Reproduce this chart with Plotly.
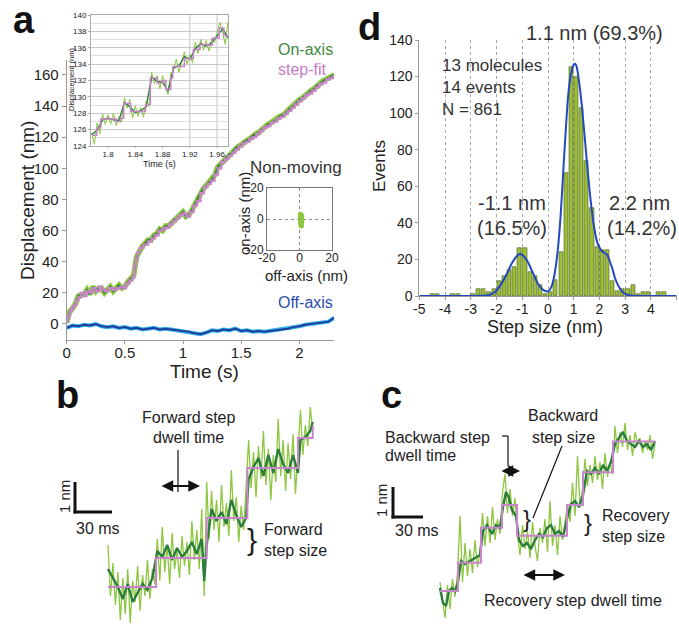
import plotly.graph_objects as go

# ---------------- DATA ----------------
# Panel a: main trace (time s, displacement nm)
main_raw_t = [0, 0.025, 0.05, 0.075, 0.1, 0.125, 0.15, 0.175, 0.2, 0.225, 0.25, 0.275, 0.3, 0.325, 0.35, 0.375,
              0.4, 0.425, 0.45, 0.475, 0.5, 0.525, 0.55, 0.575, 0.6, 0.625, 0.65, 0.675, 0.7, 0.725, 0.75, 0.775,
              0.8, 0.825, 0.85, 0.875, 0.9, 0.925, 0.95, 0.975, 1.0, 1.025, 1.05, 1.075, 1.1, 1.125, 1.15, 1.175,
              1.2, 1.225, 1.25, 1.275, 1.3, 1.325, 1.35, 1.375, 1.4, 1.425, 1.45, 1.475, 1.5, 1.525, 1.55, 1.575,
              1.6, 1.625, 1.65, 1.675, 1.7, 1.725, 1.75, 1.775, 1.8, 1.825, 1.85, 1.875, 1.9, 1.925, 1.95, 1.975,
              2.0, 2.025, 2.05, 2.075, 2.1, 2.125, 2.15, 2.175, 2.2, 2.225, 2.25, 2.275, 2.3]
main_raw_nm = [1, 8, 10, 13, 18, 19, 19, 22, 19, 24, 21, 23, 23, 20, 22, 24,
               21, 23, 25, 23, 24, 27, 29, 31, 43, 47, 50, 52, 54, 54, 57, 58,
               61, 60, 63, 63, 65, 67, 68, 70, 72, 69, 70, 73, 77, 80, 84, 87,
               89, 91, 93, 96, 101, 103, 105, 107, 109, 110, 113, 114, 115, 117, 118, 119,
               121, 122, 123, 125, 126, 128, 129, 130, 131, 133, 134, 135, 137, 139, 140, 142,
               144, 145, 147, 148, 150, 151, 153, 154, 156, 157, 158, 159, 160]
main_step_t = [0, 0.01, 0.025, 0.04, 0.06, 0.08, 0.1, 0.12, 0.15, 0.17, 0.2, 0.22, 0.25, 0.28, 0.3, 0.33, 0.36, 0.4,
               0.43, 0.46, 0.49, 0.51, 0.54, 0.565, 0.58, 0.595, 0.61, 0.63, 0.66, 0.7, 0.73, 0.76, 0.79, 0.82,
               0.85, 0.88, 0.91, 0.94, 0.97, 1.0, 1.03, 1.06, 1.09, 1.12, 1.15, 1.18, 1.21, 1.24, 1.27, 1.3,
               1.33, 1.36, 1.39, 1.42, 1.45, 1.48, 1.51, 1.54, 1.57, 1.6, 1.63, 1.66, 1.69, 1.72, 1.75, 1.78,
               1.81, 1.84, 1.87, 1.9, 1.93, 1.96, 1.99, 2.02, 2.05, 2.08, 2.11, 2.14, 2.17, 2.2, 2.23, 2.26, 2.29, 2.3]
main_step_nm = [2, 5, 8, 10, 12, 15, 17, 20, 18, 21, 20, 23, 21, 24, 22, 21, 23, 22,
                23, 24, 23, 26, 28, 30, 37, 42, 46, 49, 51, 53, 55, 57, 60, 61,
                62, 64, 66, 68, 70, 71, 69, 72, 76, 79, 84, 88, 90, 92, 96, 100,
                104, 106, 108, 110, 112, 114, 116, 117, 119, 120, 122, 124, 126, 127, 129, 130,
                132, 133, 135, 137, 139, 141, 143, 145, 147, 148, 150, 152, 154, 155, 157, 158, 159, 159]
off_t = [0, 0.05, 0.1, 0.15, 0.2, 0.25, 0.3, 0.35, 0.4, 0.45, 0.5, 0.55, 0.6, 0.65, 0.7, 0.75, 0.8, 0.85,
         0.9, 0.95, 1.0, 1.05, 1.1, 1.15, 1.2, 1.25, 1.3, 1.35, 1.4, 1.45, 1.5, 1.55, 1.6, 1.65, 1.7, 1.75,
         1.8, 1.85, 1.9, 1.95, 2.0, 2.05, 2.1, 2.15, 2.2, 2.25, 2.3]
off_nm = [-2.5, -1, -1.5, -0.5, -1, 0, -1.5, -2, -1.5, -2.5, -2, -3, -2.5, -3.5, -3, -2.5, -3.5, -3,
          -3.5, -4, -4.5, -5, -6, -6.5, -5.5, -4, -4.5, -3.5, -4, -3, -4.5, -4, -5, -4.5, -5, -4.5,
          -4, -3.5, -3, -2, -1.5, -0.5, 0, 0.5, 1, 1.5, 4]

# Panel a inset (zoomed time window)
ins_raw_t = [1.776, 1.780, 1.784, 1.788, 1.792, 1.796, 1.800, 1.804, 1.808, 1.812, 1.816, 1.820, 1.824,
             1.828, 1.832, 1.836, 1.840, 1.844, 1.848, 1.852, 1.856, 1.860, 1.864, 1.868, 1.872, 1.876,
             1.880, 1.884, 1.888, 1.892, 1.896, 1.900, 1.904, 1.908, 1.912, 1.916, 1.920, 1.924, 1.928,
             1.932, 1.936, 1.940, 1.944, 1.948, 1.952, 1.956, 1.960, 1.964, 1.968, 1.972, 1.976]
ins_raw_nm = [125.6, 124.2, 126.8, 125.5, 127.9, 126.6, 127.8, 126.7, 128.0, 126.5, 127.6, 126.9, 129.9,
              128.6, 129.7, 127.4, 128.9, 127.6, 128.7, 127.5, 129.5, 128.8, 133.0, 131.6, 132.6, 131.0,
              132.6, 131.4, 130.3, 132.9, 133.2, 134.6, 133.0, 134.3, 135.5, 134.0, 135.2, 134.2, 136.7,
              135.3, 137.0, 135.7, 136.9, 135.6, 137.1, 136.6, 137.8, 139.1, 137.9, 136.4, 139.2]
ins_smooth_t = [1.776, 1.784, 1.792, 1.800, 1.808, 1.816, 1.824, 1.832, 1.840, 1.848, 1.856, 1.864, 1.872,
                1.880, 1.888, 1.896, 1.904, 1.912, 1.920, 1.928, 1.936, 1.944, 1.952, 1.960, 1.968, 1.976]
ins_smooth_nm = [125.4, 125.9, 127.2, 127.4, 127.2, 127.1, 129.3, 128.8, 128.1, 128.3, 128.8, 132.4, 131.9,
                 131.8, 130.7, 133.5, 133.8, 134.9, 134.6, 135.9, 136.5, 136.2, 136.6, 137.4, 138.3, 137.2]
ins_step_t = [1.7775, 1.7835, 1.789, 1.812, 1.818, 1.823, 1.833, 1.855, 1.862, 1.872, 1.880, 1.885,
              1.892, 1.895, 1.912, 1.925, 1.935, 1.945, 1.953, 1.963, 1.970, 1.976]
ins_step_nm = [125.3, 126.2, 127.3, 127.0, 127.4, 129.2, 128.2, 129.1, 132.3, 131.7, 132.0, 130.9,
               132.3, 133.7, 134.7, 135.8, 136.4, 136.3, 137.2, 138.4, 137.5, 137.5]

# Panel a "Non-moving" scatter (off-axis nm, on-axis nm)
nm_off = [0.5, 1.0, 1.5, 0.8, 1.2, 0.6, 1.4, 0.9, 1.1, 0.7, 1.3, 1.0, 0.8, 1.2, 0.9, 1.1, 1.0, 0.7, 1.3, 1.0]
nm_on = [3, 2.5, 2, 1.5, 1, 0.5, 0, -0.5, -1, -1.5, -2, -2.5, -3, -3.5, -4, -4.5, -1.8, 0.8, -0.8, 1.8]

# Panel d histogram (step size nm, events)
d_centers = [-4.9, -4.7, -4.5, -4.3, -4.1, -3.9, -3.7, -3.5, -3.3, -3.1, -2.9, -2.7, -2.5, -2.3, -2.1,
             -1.9, -1.7, -1.5, -1.3, -1.1, -0.9, -0.7, -0.5, -0.3, -0.1, 0.1, 0.3, 0.5, 0.7, 0.9, 1.1,
             1.3, 1.5, 1.7, 1.9, 2.1, 2.3, 2.5, 2.7, 2.9, 3.1, 3.3, 3.5, 3.7, 3.9, 4.1, 4.3, 4.5, 4.7, 4.9]
d_counts = [0, 0, 1, 1, 0, 0, 1, 1, 0, 0, 1, 4, 4, 2, 4,
            8, 11, 14, 16, 26, 26, 13, 11, 6, 1, 2, 9, 24, 67, 125, 120,
            103, 74, 48, 27, 25, 25, 8, 3, 4, 4, 6, 1, 2, 2, 0, 2, 2, 0, 0]
fit_x = [-5, -3, -2.6, -2.4, -2.2, -2.0, -1.8, -1.6, -1.4, -1.2, -1.1, -1.0, -0.8, -0.6, -0.4, -0.2, 0.0,
         0.1, 0.2, 0.3, 0.4, 0.5, 0.6, 0.7, 0.8, 0.9, 1.0, 1.05, 1.1, 1.2, 1.3, 1.4, 1.5, 1.6, 1.7, 1.8,
         1.9, 2.0, 2.1, 2.2, 2.3, 2.4, 2.5, 2.6, 2.7, 2.8, 2.9, 3.0, 3.2, 3.4, 5]
fit_y = [0, 0, 0.1, 0.3, 1, 3, 7, 12, 18, 22, 23, 22.5, 19, 13, 7, 3.5, 2.5,
         4, 8, 16, 28, 46, 70, 93, 112, 122, 126.5, 127, 126, 118, 106, 91, 75, 60, 47, 37,
         30, 26.5, 24.5, 23.5, 22.5, 19, 15, 10, 6.5, 4, 2.2, 1.2, 0.3, 0.05, 0]
d_ticks = [-5, -4, -3, -2, -1, 0, 1, 2, 3, 4, 5]
d_ticktext = ['-5', '-4', '-3', '-2', '-1', '0', '1', '2', '3', '4', '5']

# Panel b (time ms, displacement nm)
b_raw_t = [0, 2, 4, 6, 8, 10, 12, 14, 16, 18, 20, 22, 24, 26, 28, 30, 32, 34, 36, 38,
           40, 42, 44, 46, 48, 50, 52, 54, 56, 58, 60, 62, 64, 66, 68, 70, 72, 74, 76, 78,
           80, 82, 84, 86, 88, 90, 92, 94, 96, 98, 100, 102, 104, 106, 108, 110, 112,
           114, 116, 118, 120, 122, 124, 126, 128, 130, 132, 134, 136, 138, 140, 142, 144, 146, 148, 150, 152, 154,
           156, 158, 160, 162, 164, 166]
b_raw_nm = [1.4, -0.3, 0.8, -0.6, 0.5, -1.1, 0.3, -0.9, 0.6, -1.2, 0.2, -0.5, 0.7, -0.8, 0.4, -0.3, 0.9, -0.4, 0.6, 0.1,
            1.6, 0.2, 2.0, 0.5, 1.4, 0.1, 1.8, 0.6, 1.2, 0.3, 1.7, 0.7, 1.5, 0.4, 2.2, 0.9, 1.9, 0.6, 2.6, -0.3,
            3.5, 1.6, 3.2, 1.9, 2.9, 1.5, 3.4, 2.0, 2.8, 1.7, 3.9, 2.2, 3.0, 1.5, 2.7, 1.9, 3.4,
            4.9, 3.3, 4.5, 3.0, 4.7, 3.6, 5.2, 3.4, 4.6, 2.9, 4.4, 3.5, 5.6, 3.7, 4.9, 3.2, 4.8, 3.6, 5.1, 3.1, 4.5,
            5.9, 4.4, 5.4, 4.7, 6.0, 5.2]
b_smooth_t = [0, 4, 8, 12, 16, 20, 24, 28, 32, 36, 40, 44, 48, 52, 56, 60, 64, 68, 72, 76, 78, 80,
              84, 88, 92, 96, 100, 104, 108, 112, 114, 118, 122, 126, 130, 134, 138, 142, 146, 150, 154,
              156, 160, 164, 166]
b_smooth_nm = [0.6, 0.3, 0.0, -0.4, 0.1, -0.5, -0.2, 0.1, -0.1, 0.3, 1.2, 1.0, 1.4, 0.9, 1.3, 1.0, 1.2, 1.5, 1.1, 1.6, 0.2, 1.4,
               2.6, 2.2, 2.5, 2.1, 2.9, 2.4, 2.0, 2.3, 3.6, 4.0, 4.3, 3.7, 4.4, 3.8, 4.6, 4.1, 3.8, 4.4, 3.8,
               4.9, 5.0, 5.2, 5.5]
b_step_t = [0, 39, 80, 113, 154, 166, 167]
b_step_nm = [0, 0.97, 2.3, 3.97, 4.97, 5.33, 5.33]

# Panel c (time ms, displacement nm)
c_raw_t = [0, 2.5, 5, 7.5, 10, 12.5, 15, 17.5, 20, 22.5, 25, 27.5, 30, 32.5, 35, 37.5, 40,
           42.5, 45, 47.5, 50, 52.5, 55, 57.5, 60, 62.5, 65, 67.5, 70, 72.5, 75,
           77.5, 80, 82.5, 85, 87.5, 90, 92.5, 95, 97.5, 100, 102.5, 105, 107.5, 110, 112.5, 115, 117.5, 120,
           122.5, 125, 127.5, 130, 132.5, 135, 137.5, 140, 142.5, 145, 147.5, 150, 152.5, 155, 157.5, 160,
           162.5, 165, 167.5, 170, 172.5, 175, 177.5, 180, 182.5, 185, 187.5, 190, 192.5, 195, 197.5, 200,
           202.5, 205, 207.5, 210, 212.5, 215]
c_raw_nm = [0.3, -0.4, -0.9, 0.2, -0.6, 0.4, -0.2, 0.6,
            2.5, 0.3, 1.6, 0.5, 1.4, 0.6, 1.7, 0.8, 1.3,
            2.6, 1.5, 2.5, 1.6, 2.8, 1.7, 2.4, 1.9,
            3.3, 3.9, 2.6, 3.4, 2.5, 3.1,
            1.9, 1.2, 2.2, 1.4, 2.0, 1.1, 2.3, 1.5, 1.0, 2.1, 1.6, 2.4, 1.3, 3.0, 1.5, 2.2, 1.2, 2.5, 1.7, 2.3,
            2.9, 2.3, 3.6, 2.5, 4.5, 2.8, 3.4,
            4.4, 3.5, 4.2, 3.6, 4.5, 3.7, 4.3, 3.4, 4.6, 3.8, 4.3, 3.9,
            5.5, 4.6, 5.3, 4.8, 5.6, 4.7, 5.2, 4.5, 5.3, 4.9, 5.1, 4.6, 5.0, 4.7, 5.2, 4.4, 4.9]
c_smooth_t = [0, 3, 6, 9, 12, 15, 18, 21, 25, 30, 35, 40, 43, 47, 52, 56, 60, 63, 66, 69, 72, 76, 79, 83,
              87, 91, 95, 99, 103, 107, 111, 115, 119, 123, 127, 131, 135, 139, 143, 147, 151, 155, 159,
              163, 167, 171, 175, 179, 183, 187, 191, 195, 199, 203, 207, 211, 215]
c_smooth_nm = [0.1, -0.4, -0.5, 0.0, 0.1, 0.0, 0.3, 1.0, 0.9, 1.0, 1.1, 1.2, 2.0, 2.2, 1.9, 2.2, 2.1, 2.8, 3.3,
               3.1, 2.7, 2.5, 1.7, 1.5, 1.6, 1.4, 1.7, 1.9, 1.8, 2.1, 2.2, 1.9, 2.0, 1.8, 2.4, 2.9, 3.0, 2.8,
               3.2, 4.0, 3.9, 4.1, 3.9, 4.2, 4.0, 4.3, 4.9, 5.1, 5.3, 5.0, 4.9, 4.8, 5.0, 4.8, 4.9, 4.7, 5.0]
c_step_t = [0, 18, 41, 62, 77, 127, 143, 173, 215]
c_step_nm = [0, 0.94, 2.11, 2.87, 1.84, 2.87, 3.96, 4.98, 4.98]

# ---------------- STYLE ----------------
W, H = 679, 628
FONT = "Liberation Sans, Arial, Helvetica, sans-serif"
LIGHT_GREEN = '#8dc63f'
DARK_GREEN = '#2a7d3a'
PINK = '#c985c9'
DARK_BLUE = '#1f3f9e'
LIGHT_BLUE = '#35b4ea'
AX = '#999999'
TXT = '#222222'


def X(p):
    return p / W


def Y(p):
    return 1 - p / H


fig = go.Figure()


def line_trace(x, y, color, width, xa, ya, shape='linear'):
    fig.add_trace(go.Scatter(x=x, y=y, mode='lines', line=dict(color=color, width=width, shape=shape),
                             xaxis=xa, yaxis=ya, hoverinfo='skip', showlegend=False))


# Panel a main
line_trace(off_t, off_nm, LIGHT_BLUE, 4, 'x', 'y')
line_trace(off_t, off_nm, DARK_BLUE, 2, 'x', 'y')
line_trace(main_raw_t, main_raw_nm, LIGHT_GREEN, 5.5, 'x', 'y')
line_trace(main_raw_t, main_raw_nm, DARK_GREEN, 1.8, 'x', 'y')
line_trace(main_step_t, main_step_nm, PINK, 2.4, 'x', 'y', 'hv')

# Inset
line_trace(ins_raw_t, ins_raw_nm, LIGHT_GREEN, 1, 'x2', 'y2')
line_trace(ins_smooth_t, ins_smooth_nm, DARK_GREEN, 1.4, 'x2', 'y2')
line_trace(ins_step_t, ins_step_nm, PINK, 1.5, 'x2', 'y2', 'hv')

# Non-moving
fig.add_trace(go.Scatter(x=nm_off, y=nm_on, mode='markers', marker=dict(color=LIGHT_GREEN, size=5),
                         xaxis='x3', yaxis='y3', hoverinfo='skip', showlegend=False))

# Panel d
fig.add_trace(go.Bar(x=d_centers, y=d_counts, width=0.16,
                     marker=dict(color='#9bbd3a', line=dict(color='#4f5f20', width=0.6)),
                     xaxis='x4', yaxis='y4', hoverinfo='skip', showlegend=False))
line_trace(fit_x, fit_y, '#2448c0', 2, 'x4', 'y4', 'spline')

# Panel b
line_trace(b_raw_t, b_raw_nm, LIGHT_GREEN, 1.3, 'x5', 'y5')
line_trace(b_smooth_t, b_smooth_nm, DARK_GREEN, 2.4, 'x5', 'y5')
line_trace(b_step_t, b_step_nm, PINK, 2, 'x5', 'y5', 'hv')

# Panel c
line_trace(c_raw_t, c_raw_nm, LIGHT_GREEN, 1.3, 'x6', 'y6')
line_trace(c_smooth_t, c_smooth_nm, DARK_GREEN, 2.4, 'x6', 'y6')
line_trace(c_step_t, c_step_nm, PINK, 2, 'x6', 'y6', 'hv')

base = dict(showgrid=False, zeroline=False, fixedrange=True, automargin=False)
hidden = dict(visible=False, showgrid=False, zeroline=False, fixedrange=True, automargin=False)

layout = dict(
    template='none',
    width=W, height=H, margin=dict(l=0, r=0, t=0, b=0, pad=0), autosize=False,
    paper_bgcolor='white', plot_bgcolor='rgba(0,0,0,0)',
    font=dict(family=FONT, color=TXT), showlegend=False, bargap=0,
    xaxis=dict(base, domain=[X(66.7), X(334.2)], range=[0, 2.3], anchor='y',
               showline=True, linecolor=AX, ticks='outside', ticklen=3, tickcolor=AX, ticklabelstandoff=-4,
               tickvals=[0, 0.5, 1, 1.5, 2], ticktext=['0', '0.5', '1', '1.5', '2'],
               tickfont=dict(size=15, color=TXT, family=FONT)),
    yaxis=dict(base, domain=[Y(340), Y(60)], range=[-10.28, 169.56], anchor='x',
               showline=True, linecolor=AX, ticks='outside', ticklen=4, tickcolor=AX,
               tickvals=[0, 20, 40, 60, 80, 100, 120, 140, 160],
               tickfont=dict(size=15, color=TXT, family=FONT)),
    xaxis2=dict(base, domain=[X(91), X(228)], range=[1.775, 1.976], anchor='y2',
                showline=True, mirror=True, linecolor='#aaa', ticks='outside', ticklen=1, tickcolor='#aaa',
                ticklabelstandoff=-1,
                tickvals=[1.8, 1.84, 1.88, 1.92, 1.96], ticktext=['1.8', '1.84', '1.88', '1.92', '1.96'],
                tickfont=dict(size=8, color=TXT, family=FONT)),
    yaxis2=dict(base, domain=[Y(146), Y(15)], range=[124, 140], anchor='x2',
                showline=True, mirror=True, linecolor='#aaa', ticks='outside', ticklen=2, tickcolor='#aaa',
                tickvals=[124, 126, 128, 130, 132, 134, 136, 138, 140],
                showgrid=True, gridcolor='#c8c8c8', gridwidth=0.7,
                minor=dict(dtick=1, showgrid=True, gridcolor='#dedede', gridwidth=0.6),
                tickfont=dict(size=8, color=TXT, family=FONT)),
    xaxis3=dict(base, domain=[X(267), X(332)], range=[-20, 20], anchor='y3',
                showline=True, mirror=True, linecolor='#777', ticks='', ticklabelstandoff=-3,
                tickvals=[-20, 0, 20], ticktext=['-20', '0', '20'],
                showgrid=True, gridcolor='#888', griddash='dot', gridwidth=1,
                tickfont=dict(size=12, color=TXT, family=FONT)),
    yaxis3=dict(base, domain=[Y(250), Y(188)], range=[-20, 20], anchor='x3',
                showline=True, mirror=True, linecolor='#777', ticks='',
                tickvals=[-20, 0, 20], ticktext=['-20', '0', '20'],
                showgrid=True, gridcolor='#888', griddash='dot', gridwidth=1,
                tickfont=dict(size=12, color=TXT, family=FONT)),
    xaxis4=dict(base, domain=[X(419.3), X(676.7)], range=[-5, 5], anchor='y4',
                showline=True, linecolor=AX, ticks='outside', ticklen=3, tickcolor=AX, ticklabelstandoff=-3,
                tickvals=d_ticks, ticktext=d_ticktext,
                showgrid=True, gridcolor='#a8a8a8', griddash='dot', gridwidth=1,
                tickfont=dict(size=14, color=TXT, family=FONT)),
    yaxis4=dict(base, domain=[Y(296), Y(40)], range=[0, 140], anchor='x4',
                showline=True, linecolor=AX, ticks='outside', ticklen=3, tickcolor=AX,
                tickvals=[0, 20, 40, 60, 80, 100, 120, 140],
                tickfont=dict(size=14, color=TXT, family=FONT)),
    xaxis5=dict(hidden, domain=[X(60), X(350)], range=[-38.92, 196.2], anchor='y5'),
    yaxis5=dict(hidden, domain=[Y(628), Y(365)], range=[-1.367, 7.4], anchor='x5'),
    xaxis6=dict(hidden, domain=[X(370), X(679)], range=[-70, 239], anchor='y6'),
    yaxis6=dict(hidden, domain=[Y(628), Y(365)], range=[-1.233, 7.533], anchor='x6'),
)
fig.update_layout(**layout)

anns = []


def txt(text, x, y, size, color=TXT, angle=0, xanchor='center', bold=False, align='center'):
    if bold:
        text = '<b>' + text + '</b>'
    anns.append(dict(text=text, x=X(x), y=Y(y), xref='paper', yref='paper', showarrow=False,
                     xanchor=xanchor, yanchor='middle', textangle=angle, align=align,
                     font=dict(size=size, color=color, family=FONT)))


def arrow2(x0, x1, y, width=1.8):
    anns.append(dict(text='', x=X(x1), y=Y(y), xref='paper', yref='paper', ax=x0 - x1, ay=0,
                     showarrow=True, arrowhead=2, arrowside='end+start', arrowsize=1.3,
                     arrowwidth=width, arrowcolor='#111'))


# panel letters
txt('a', 24, 20, 38, '#111', bold=True)
txt('d', 370, 27, 38, '#111', bold=True)
txt('b', 67, 395, 38, '#111', bold=True)
txt('c', 392, 395, 38, '#111', bold=True)

# panel a texts
txt('Displacement (nm)', 27, 201, 19, angle=-90)
txt('Time (s)', 204, 371, 19)
txt('On-axis', 305, 50, 16, '#3a8a3a')
txt('step-fit', 302, 70, 16, '#c57cc5')
txt('Off-axis', 305, 302, 16, '#2a4bb0')
txt('Non-moving', 296, 168, 17, '#333')
txt('on-axis (nm)', 244, 214, 15, angle=-90)
txt('off-axis (nm)', 306, 275, 15)
txt('Time (s)', 159, 164, 9)
txt('Displacement (nm)', 72, 80, 7.5, angle=-90)

# panel d texts
txt('Events', 379, 166, 17, angle=-90)
txt('Step size (nm)', 545, 327, 18)
txt('1.1 nm (69.3%)', 594, 33, 20, '#333')
txt('13 molecules', 440, 65, 17, '#333', xanchor='left')
txt('14 events', 440, 87, 17, '#333', xanchor='left')
txt('N = 861', 440, 109, 17, '#333', xanchor='left')
txt('-1.1 nm', 512, 203, 20, '#333')
txt('(16.5%)', 512, 228, 20, '#333')
txt('2.2 nm', 639, 203, 20, '#333')
txt('(14.2%)', 642, 228, 20, '#333')

# panel b texts
txt('Forward step', 188, 417, 16)
txt('dwell time', 188, 437, 16)
txt('Forward', 262, 529, 16, xanchor='left')
txt('step size', 262, 550, 16, xanchor='left')
txt('}', 252, 539, 30)
txt('1 nm', 64, 497, 15, angle=-90)
txt('30 ms', 98, 528, 16)
arrow2(160, 200, 486)

# panel c texts
txt('Backward step', 383, 437, 16, xanchor='left')
txt('dwell time', 383, 456, 16, xanchor='left')
txt('Backward', 563, 415, 16)
txt('step size', 563, 437, 16)
txt('}', 527, 518, 24)
txt('Recovery', 600, 515, 16, xanchor='left')
txt('step size', 600, 536, 16, xanchor='left')
txt('}', 588, 522, 24)
txt('Recovery step dwell time', 573, 600, 16)
txt('1 nm', 381, 501, 15, angle=-90)
txt('30 ms', 417, 530, 16)
arrow2(500, 520, 471)
arrow2(522, 565, 575)

shapes = []


def seg(x0, y0, x1, y1, w=1.2, color='#111'):
    shapes.append(dict(type='line', xref='paper', yref='paper', x0=X(x0), y0=Y(y0), x1=X(x1), y1=Y(y1),
                       line=dict(color=color, width=w)))


# scale bars
seg(75, 482, 75, 513.5, 3)
seg(73.5, 512, 112, 512, 3)
seg(393, 487, 393, 518.5, 3)
seg(391.5, 517, 423, 517, 3)
# pointer lines
seg(178, 450, 178, 492, 1.2)
seg(502, 436, 508, 436, 1.2)
seg(508, 436, 508, 466, 1.2)
seg(562, 446, 533, 518, 1.2)

# inset vertical gridlines
for gx in [1.92, 1.96]:
    shapes.append(dict(type='line', xref='x2', yref='y2 domain', x0=gx, x1=gx, y0=0, y1=1,
                       line=dict(color='#b5b5b5', width=0.8), layer='below'))

fig.update_layout(annotations=anns, shapes=shapes)
fig.write_html('out.html', config={'displayModeBar': False},
               post_script="document.body.style.margin='0';document.body.style.overflow='hidden';")
